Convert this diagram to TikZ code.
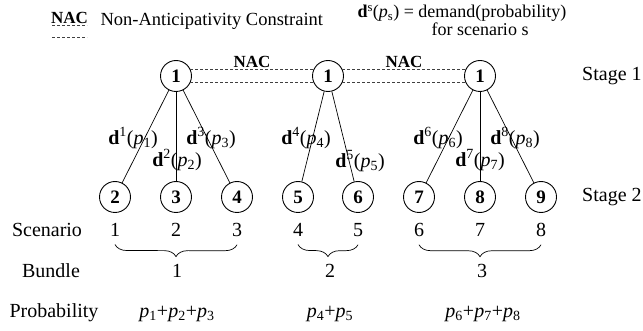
\documentclass[tikz,border=0pt]{standalone}
\usepackage{fontspec}
\setmainfont{Liberation Serif}
\usetikzlibrary{decorations.pathreplacing}
\newcommand{\dlab}[1]{\textbf{d}\textsuperscript{#1}(\textit{p}\textsubscript{#1})}
\newcommand{\plab}[1]{\textit{p}\textsubscript{#1}}

\begin{document}
\begin{tikzpicture}[x=1pt, y=-1pt, every node/.style={font=\fontsize{20}{24}\selectfont}]
  \tikzstyle{st}=[draw,circle,minimum size=31pt,inner sep=0pt,line width=0.9pt,font=\fontsize{19}{20}\selectfont\bfseries]
  \tikzstyle{nac}=[dash pattern=on 3pt off 2pt,line width=0.6pt,black!75]
  \tikzstyle{nacl}=[midway,above=0pt,inner sep=1pt,text=black,font=\fontsize{17}{20}\selectfont\bfseries]
  \tikzstyle{sm}=[anchor=base west,font=\fontsize{18}{20}\selectfont]
  \tikzstyle{bundle}=[decorate,decoration={brace,mirror,amplitude=12pt},line width=0.7pt]
  \useasboundingbox (0,0) rectangle (643,331);
  % legend
  \coordinate (ka) at (52,25); \coordinate (kb) at (87,25);
  \coordinate (kc) at (52,37); \coordinate (kd) at (87,37);
  \draw[nac] (ka) -- (kb) node[nacl] (knac) {NAC};
  \draw[nac] (kc) -- (kd);
  \node[sm,font=\fontsize{18.5}{20}\selectfont] (ktxt) at (97,26) {Non-Anticipativity Constraint};
  \node[sm] (dtxt) at (354,18) {\textbf{d}\textsuperscript{s}(\textit{p}\textsubscript{s}) = demand(probability)};
  \node[sm] (ftxt) at (428,36) {for scenario s};
  % stage 1
  \node[st] (r1) at (176,76) {1};
  \node[st] (r2) at (328,76) {1};
  \node[st] (r3) at (480,76) {1};
  \foreach \a/\b in {r1/r2,r2/r3}{
    \draw[nac] (\a.25) -- (\b.155) node[nacl] {NAC};
    \draw[nac] (\a.-25) -- (\b.-155);
  }
  % stage 2
  \foreach \i/\x in {2/115,3/176,4/237,5/298,6/358,7/419,8/480,9/541}
    \node[st] (n\i) at (\x,197) {\i};
  \foreach \a/\b in {r1/n2,r1/n3,r1/n4,r2/n5,r2/n6,r3/n7,r3/n8,r3/n9}
    \draw[line width=0.7pt] (\a) -- (\b);
  \foreach \k/\x/\y in {1/133/138,2/177/160,3/211/138,4/306/138,5/360/161,6/438/138,7/480/160,8/515/138}
    \node[inner sep=0pt] (d\k) at (\x,\y) {\dlab{\k}};
  \node[anchor=west,inner sep=0pt] (stg1) at (582,76) {Stage 1};
  \node[anchor=west,inner sep=0pt] (stg2) at (582,197) {Stage 2};
  % rows
  \node[anchor=base] (scen) at (47,237) {Scenario};
  \node[anchor=base] (bund) at (51,278) {Bundle};
  \node[anchor=base] (prob) at (54,317) {Probability};
  \foreach \k/\x in {1/115,2/176,3/237,4/298,5/358,6/419,7/480,8/541}
    \node[anchor=base] (c\k) at (\x,237) {\k};
  \draw[bundle] ([yshift=-4pt]c1.south) -- ([yshift=-4pt]c3.south);
  \draw[bundle] ([yshift=-4pt]c4.south) -- ([yshift=-4pt]c5.south);
  \draw[bundle] ([yshift=-4pt]c6.south) -- ([yshift=-4pt]c8.south);
  \node[anchor=base] (b1) at (177,278) {1};
  \node[anchor=base] (b2) at (330,278) {2};
  \node[anchor=base] (b3) at (482,278) {3};
  \node[anchor=base] (q1) at (177,317) {\plab1+\plab2+\plab3};
  \node[anchor=base] (q2) at (330,317) {\plab4+\plab5};
  \node[anchor=base] (q3) at (483,317) {\plab6+\plab7+\plab8};
\end{tikzpicture}
\end{document}
